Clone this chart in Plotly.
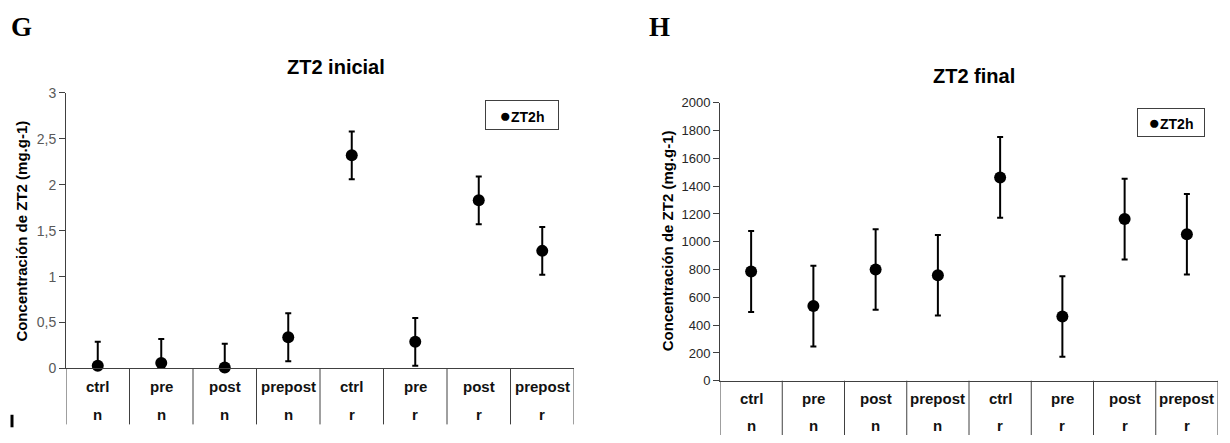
import plotly.graph_objects as go

W, H = 1230, 443

groups = ["ctrl", "pre", "post", "prepost", "ctrl", "pre", "post", "prepost"]
site = ["n", "n", "n", "n", "r", "r", "r", "r"]

ini_mean = [0.03, 0.06, 0.01, 0.34, 2.32, 0.29, 1.83, 1.28]
ini_err = [0.26, 0.26, 0.26, 0.26, 0.26, 0.26, 0.26, 0.26]

fin_mean = [786, 537, 800, 759, 1463, 462, 1163, 1054]
fin_err = [292, 290, 290, 290, 290, 290, 290, 290]

xs = list(range(len(groups)))
FONT = "Liberation Sans, Arial, sans-serif"
SERIF = "Liberation Serif, Times New Roman, serif"

def px_x(p):
    return p / W

def px_y(p):
    return 1 - p / H

fig = go.Figure()

def add_panel(mean, err, xa, ya):
    minus = [min(e, m) for m, e in zip(mean, err)]
    fig.add_trace(go.Scatter(
        x=xs, y=mean, mode="markers", xaxis=xa, yaxis=ya, showlegend=False,
        cliponaxis=False,
        marker=dict(color="black", size=12),
        error_y=dict(type="data", array=err, arrayminus=minus, symmetric=False,
                     color="black", thickness=2, width=3),
    ))

add_panel(ini_mean, ini_err, "x", "y")
add_panel(fin_mean, fin_err, "x2", "y2")

# panel geometry (pixels)
L = dict(x0=66, x1=574, ytop=88, ybot=374, tbot=432, row1=393, row2=422)
R = dict(x0=720, x1=1218, ytop=98.3, ybot=386.7, tbot=443, row1=405, row2=433)

axis_col = "#404040"
xcommon = dict(range=[-0.5, 7.5], showticklabels=False, ticks="", showgrid=False,
               zeroline=False, showline=True, linecolor=axis_col, linewidth=1, fixedrange=True)

fig.update_layout(
    width=W, height=H, margin=dict(l=0, r=0, t=0, b=0),
    paper_bgcolor="white", plot_bgcolor="white",
    separators=",.",
    font=dict(family=FONT, color="black"),
    xaxis=dict(domain=[px_x(L["x0"]), px_x(L["x1"])], anchor="y", **xcommon),
    yaxis=dict(domain=[px_y(L["ybot"]), px_y(L["ytop"])], anchor="x", range=[0, 3],
               dtick=0.5, ticks="outside", ticklen=6, tickcolor=axis_col, showgrid=False,
               zeroline=False, showline=True, linecolor=axis_col, linewidth=1,
               tickfont=dict(size=14, color="#595959", family=FONT)),
    xaxis2=dict(domain=[px_x(R["x0"]), px_x(R["x1"])], anchor="y2", **xcommon),
    yaxis2=dict(domain=[px_y(R["ybot"]), px_y(R["ytop"])], anchor="x2", range=[0, 2000],
                dtick=200, ticks="outside", ticklen=6, tickcolor=axis_col, showgrid=False,
                zeroline=False, showline=True, linecolor=axis_col, linewidth=1,
                tickfont=dict(size=13, color="#262626", family=FONT)),
)

shapes = []
annots = []

def table(P, xref):
    for i in range(len(groups) + 1):
        shapes.append(dict(type="line", xref=xref, yref="paper",
                           x0=i - 0.5, x1=i - 0.5, y0=px_y(P["ybot"]), y1=px_y(P["tbot"]),
                           line=dict(color=axis_col, width=1)))
    for i, (g, s) in enumerate(zip(groups, site)):
        annots.append(dict(xref=xref, yref="paper", x=i, y=px_y(P["row1"]), text="<b>%s</b>" % g,
                           showarrow=False, font=dict(size=15, family=FONT, color="#111111"),
                           xanchor="center", yanchor="middle"))
        annots.append(dict(xref=xref, yref="paper", x=i, y=px_y(P["row2"]), text="<b>%s</b>" % s,
                           showarrow=False, font=dict(size=15, family=FONT, color="#111111"),
                           xanchor="center", yanchor="middle"))

table(L, "x")
table(R, "x2")

legend_txt = "<b><span style='font-size:19px'>●</span>ZT2h</b>"

annots += [
    dict(xref="paper", yref="paper", x=px_x(9), y=px_y(20), text="<b>G</b>", showarrow=False,
         xanchor="left", yanchor="middle", font=dict(size=27, family=SERIF)),
    dict(xref="paper", yref="paper", x=px_x(647), y=px_y(20), text="<b>H</b>", showarrow=False,
         xanchor="left", yanchor="middle", font=dict(size=27, family=SERIF)),
    dict(xref="paper", yref="paper", x=px_x(336), y=px_y(61), text="<b>ZT2 inicial</b>", showarrow=False,
         xanchor="center", yanchor="middle", font=dict(size=20, family=FONT)),
    dict(xref="paper", yref="paper", x=px_x(974), y=px_y(71), text="<b>ZT2 final</b>", showarrow=False,
         xanchor="center", yanchor="middle", font=dict(size=20, family=FONT)),
    dict(xref="paper", yref="paper", x=px_x(22), y=px_y(232), text="<b>Concentración de ZT2 (mg.g-1)</b>",
         showarrow=False, textangle=-90, xanchor="center", yanchor="middle", font=dict(size=15, family=FONT)),
    dict(xref="paper", yref="paper", x=px_x(667), y=px_y(242), text="<b>Concentración de ZT2 (mg.g-1)</b>",
         showarrow=False, textangle=-90, xanchor="center", yanchor="middle", font=dict(size=15, family=FONT)),
    dict(xref="paper", yref="paper", x=px_x(521.5), y=px_y(111), text=legend_txt, showarrow=False,
         xanchor="center", yanchor="middle", font=dict(size=14, family=FONT),
         bordercolor="#404040", borderwidth=1, borderpad=3, width=66, height=22),
    dict(xref="paper", yref="paper", x=px_x(1170.5), y=px_y(119), text=legend_txt, showarrow=False,
         xanchor="center", yanchor="middle", font=dict(size=14, family=FONT),
         bordercolor="#404040", borderwidth=1, borderpad=3, width=60, height=21),
]

shapes.append(dict(type="line", xref="paper", yref="paper", x0=px_x(12), x1=px_x(12),
                   y0=px_y(422), y1=px_y(435), line=dict(color="black", width=3)))

fig.update_layout(shapes=shapes, annotations=annots)
fig.write_html("out.html")
